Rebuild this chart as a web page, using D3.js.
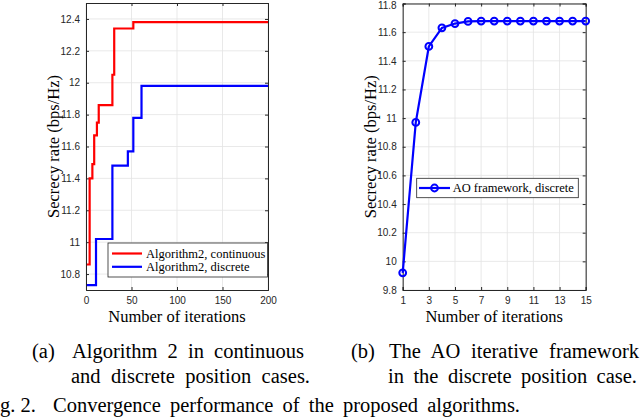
<!DOCTYPE html>
<html>
<head>
<meta charset="utf-8">
<script src="https://cdn.jsdelivr.net/npm/d3@7"></script>
<style>
  body { margin: 0; background: #fff; }
  svg { display: block; }
</style>
</head>
<body>
<svg id="fig"></svg>
<script>
const width = 640, height = 420;

// (a) Algorithm 2, step curves
const iterCont = [1, 4, 7, 9, 12, 14, 29, 31, 52, 200];
const rateCont = [10.86, 11.40, 11.49, 11.67, 11.75, 11.86, 12.05, 12.34, 12.38, 12.38];
const iterDisc = [1, 11, 29, 46, 52, 61, 200];
const rateDisc = [10.73, 11.02, 11.48, 11.57, 11.78, 11.98, 11.98];
const xTicksA = [0, 50, 100, 150, 200];
const yTicksA = [10.8, 11, 11.2, 11.4, 11.6, 11.8, 12, 12.2, 12.4];

// (b) AO framework
const iterAO = [1, 2, 3, 4, 5, 6, 7, 8, 9, 10, 11, 12, 13, 14, 15];
const rateAO = [9.92, 10.97, 11.50, 11.63, 11.66, 11.675, 11.677, 11.677, 11.677, 11.677, 11.677, 11.677, 11.677, 11.677, 11.677];
const xTicksB = [1, 3, 5, 7, 9, 11, 13, 15];
const yTicksB = [9.8, 10, 10.2, 10.4, 10.6, 10.8, 11, 11.2, 11.4, 11.6, 11.8];

const legendA = ["Algorithm2, continuous", "Algorithm2, discrete"];
const legendB = ["AO framework, discrete"];

const axisColor = "#262626", gridColor = "#e3e3e3";
const serif = "'Liberation Serif', 'Times New Roman', Times, 'DejaVu Serif', serif";
const sans = "'Liberation Sans', Arial, Helvetica, sans-serif";

const svg = d3.select("#fig").attr("width", width).attr("height", height);

function serifText(x, y, size) {
  return svg.append("text").attr("x", x).attr("y", y)
    .style("font-family", serif).style("font-size", size + "px").attr("fill", "#000");
}

function frame(x, y, xTicks, yTicks, ylabelX) {
  const [x0, x1] = x.range(), [y0, y1] = y.range();
  const g = svg.append("g");

  // grid
  g.selectAll(".gx").data(xTicks).enter().append("line")
    .attr("x1", d => x(d)).attr("x2", d => x(d)).attr("y1", y0).attr("y2", y1)
    .attr("stroke", gridColor).attr("stroke-width", 0.8);
  g.selectAll(".gy").data(yTicks).enter().append("line")
    .attr("y1", d => y(d)).attr("y2", d => y(d)).attr("x1", x0).attr("x2", x1)
    .attr("stroke", gridColor).attr("stroke-width", 0.8);

  // axes, ticks pointing in (matlab style), on all four sides
  const tl = 3;
  const left = svg.append("g").attr("transform", `translate(${x0},0)`)
    .call(d3.axisLeft(y).tickValues(yTicks).tickSize(-tl).tickPadding(6).tickFormat(d => String(+d.toFixed(1))));
  const axes = [
    svg.append("g").attr("transform", `translate(0,${y0})`)
      .call(d3.axisBottom(x).tickValues(xTicks).tickSize(-tl).tickPadding(7).tickFormat(d3.format("d"))),
    svg.append("g").attr("transform", `translate(0,${y1})`)
      .call(d3.axisTop(x).tickValues(xTicks).tickSize(-tl).tickFormat("")),
    left,
    svg.append("g").attr("transform", `translate(${x1},0)`)
      .call(d3.axisRight(y).tickValues(yTicks).tickSize(-tl).tickFormat(""))
  ];
  axes.forEach(a => {
    a.attr("font-family", sans).attr("font-size", 10);
    a.select(".domain").attr("stroke", axisColor);
    a.selectAll(".tick line").attr("stroke", axisColor);
    a.selectAll(".tick text").attr("fill", axisColor);
  });
  // keep a label that sits on the top edge inside the page
  left.selectAll(".tick").filter(d => y(d) < 6).select("text").attr("y", 1.5);

  // labels
  serifText((x0 + x1) / 2, 322, 16.5).attr("text-anchor", "middle").text("Number of iterations");
  svg.append("text")
    .attr("transform", `translate(${ylabelX},${(y0 + y1) / 2}) rotate(-90)`)
    .attr("text-anchor", "middle").attr("dominant-baseline", "central")
    .style("font-family", serif).style("font-size", "16.5px")
    .text("Secrecy rate (bps/Hz)");
  return g;
}

// ---- (a)
const xA = d3.scaleLinear().domain([0, 200]).range([86, 268]);
const yA = d3.scaleLinear().domain([10.7, 12.5]).range([290, 3]);
frame(xA, yA, xTicksA, yTicksA, 53);

const stepLine = d3.line().curve(d3.curveStepAfter).x(d => xA(d[0])).y(d => yA(d[1]));
svg.append("path").datum(d3.zip(iterCont, rateCont))
  .attr("fill", "none").attr("stroke", "#ff0000").attr("stroke-width", 2.2).attr("d", stepLine);
svg.append("path").datum(d3.zip(iterDisc, rateDisc))
  .attr("fill", "none").attr("stroke", "#0000ff").attr("stroke-width", 2.2).attr("d", stepLine);

// legend (a)
const legA = svg.append("g");
legA.append("rect").attr("x", 108).attr("y", 243).attr("width", 159.5).attr("height", 34)
  .attr("fill", "#fff").attr("stroke", axisColor).attr("stroke-width", 0.8);
["#ff0000", "#0000ff"].forEach((c, i) => {
  const yy = 253.5 + i * 13.3;
  legA.append("line").attr("x1", 112).attr("x2", 142).attr("y1", yy).attr("y2", yy)
    .attr("stroke", c).attr("stroke-width", 2.2);
  serifText(146, yy, 12.5).attr("dominant-baseline", "central").text(legendA[i]);
});

// ---- (b)
const xB = d3.scaleLinear().domain([1, 15]).range([402.7, 585.7]);
const yB = d3.scaleLinear().domain([9.8, 11.8]).range([290, 3.5]);
frame(xB, yB, xTicksB, yTicksB, 370);

const aoLine = d3.line().x(d => xB(d[0])).y(d => yB(d[1]));
const aoData = d3.zip(iterAO, rateAO);
svg.append("path").datum(aoData)
  .attr("fill", "none").attr("stroke", "#0000ff").attr("stroke-width", 2.2).attr("d", aoLine);
svg.selectAll(".ao").data(aoData).enter().append("circle")
  .attr("cx", d => xB(d[0])).attr("cy", d => yB(d[1])).attr("r", 3.4)
  .attr("fill", "none").attr("stroke", "#0000ff").attr("stroke-width", 2);

// legend (b)
const legB = svg.append("g");
legB.append("rect").attr("x", 416.7).attr("y", 178.3).attr("width", 161.6).attr("height", 19.4)
  .attr("fill", "#fff").attr("stroke", axisColor).attr("stroke-width", 0.8);
legB.append("line").attr("x1", 419).attr("x2", 450).attr("y1", 188).attr("y2", 188)
  .attr("stroke", "#0000ff").attr("stroke-width", 2.2);
legB.append("circle").attr("cx", 434.5).attr("cy", 188).attr("r", 3.4)
  .attr("fill", "none").attr("stroke", "#0000ff").attr("stroke-width", 2);
serifText(452.7, 188, 12.5).attr("dominant-baseline", "central").text(legendB[0]);

// ---- captions, justified by stretching the word gaps
const capSize = 20.5;
const cap = (txt, x, y, len) => {
  const t = serifText(x, y, capSize).text(txt);
  if (len) {
    const gaps = txt.split(" ").length - 1;
    const w = t.node().getComputedTextLength();
    t.style("word-spacing", Math.max(0, (len - w) / gaps) + "px");
  }
  return t;
};
cap("(a)", 32, 358);
cap("Algorithm 2 in continuous", 72, 358, 232);
cap("and discrete position cases.", 71, 383, 239);
cap("(b)", 351, 358);
cap("The AO iterative framework", 389, 358, 250);
cap("in the discrete position case.", 388, 383, 249);

// figure caption, "Fi" falls off the left edge as in the scan
const fi = serifText(0, 412, capSize).text("Fi");
const fiW = fi.node().getComputedTextLength();
fi.remove();
serifText(-fiW, 412, capSize).text("Fig. 2.");
cap("Convergence performance of the proposed algorithms.", 53, 412, 467);
</script>
</body>
</html>
